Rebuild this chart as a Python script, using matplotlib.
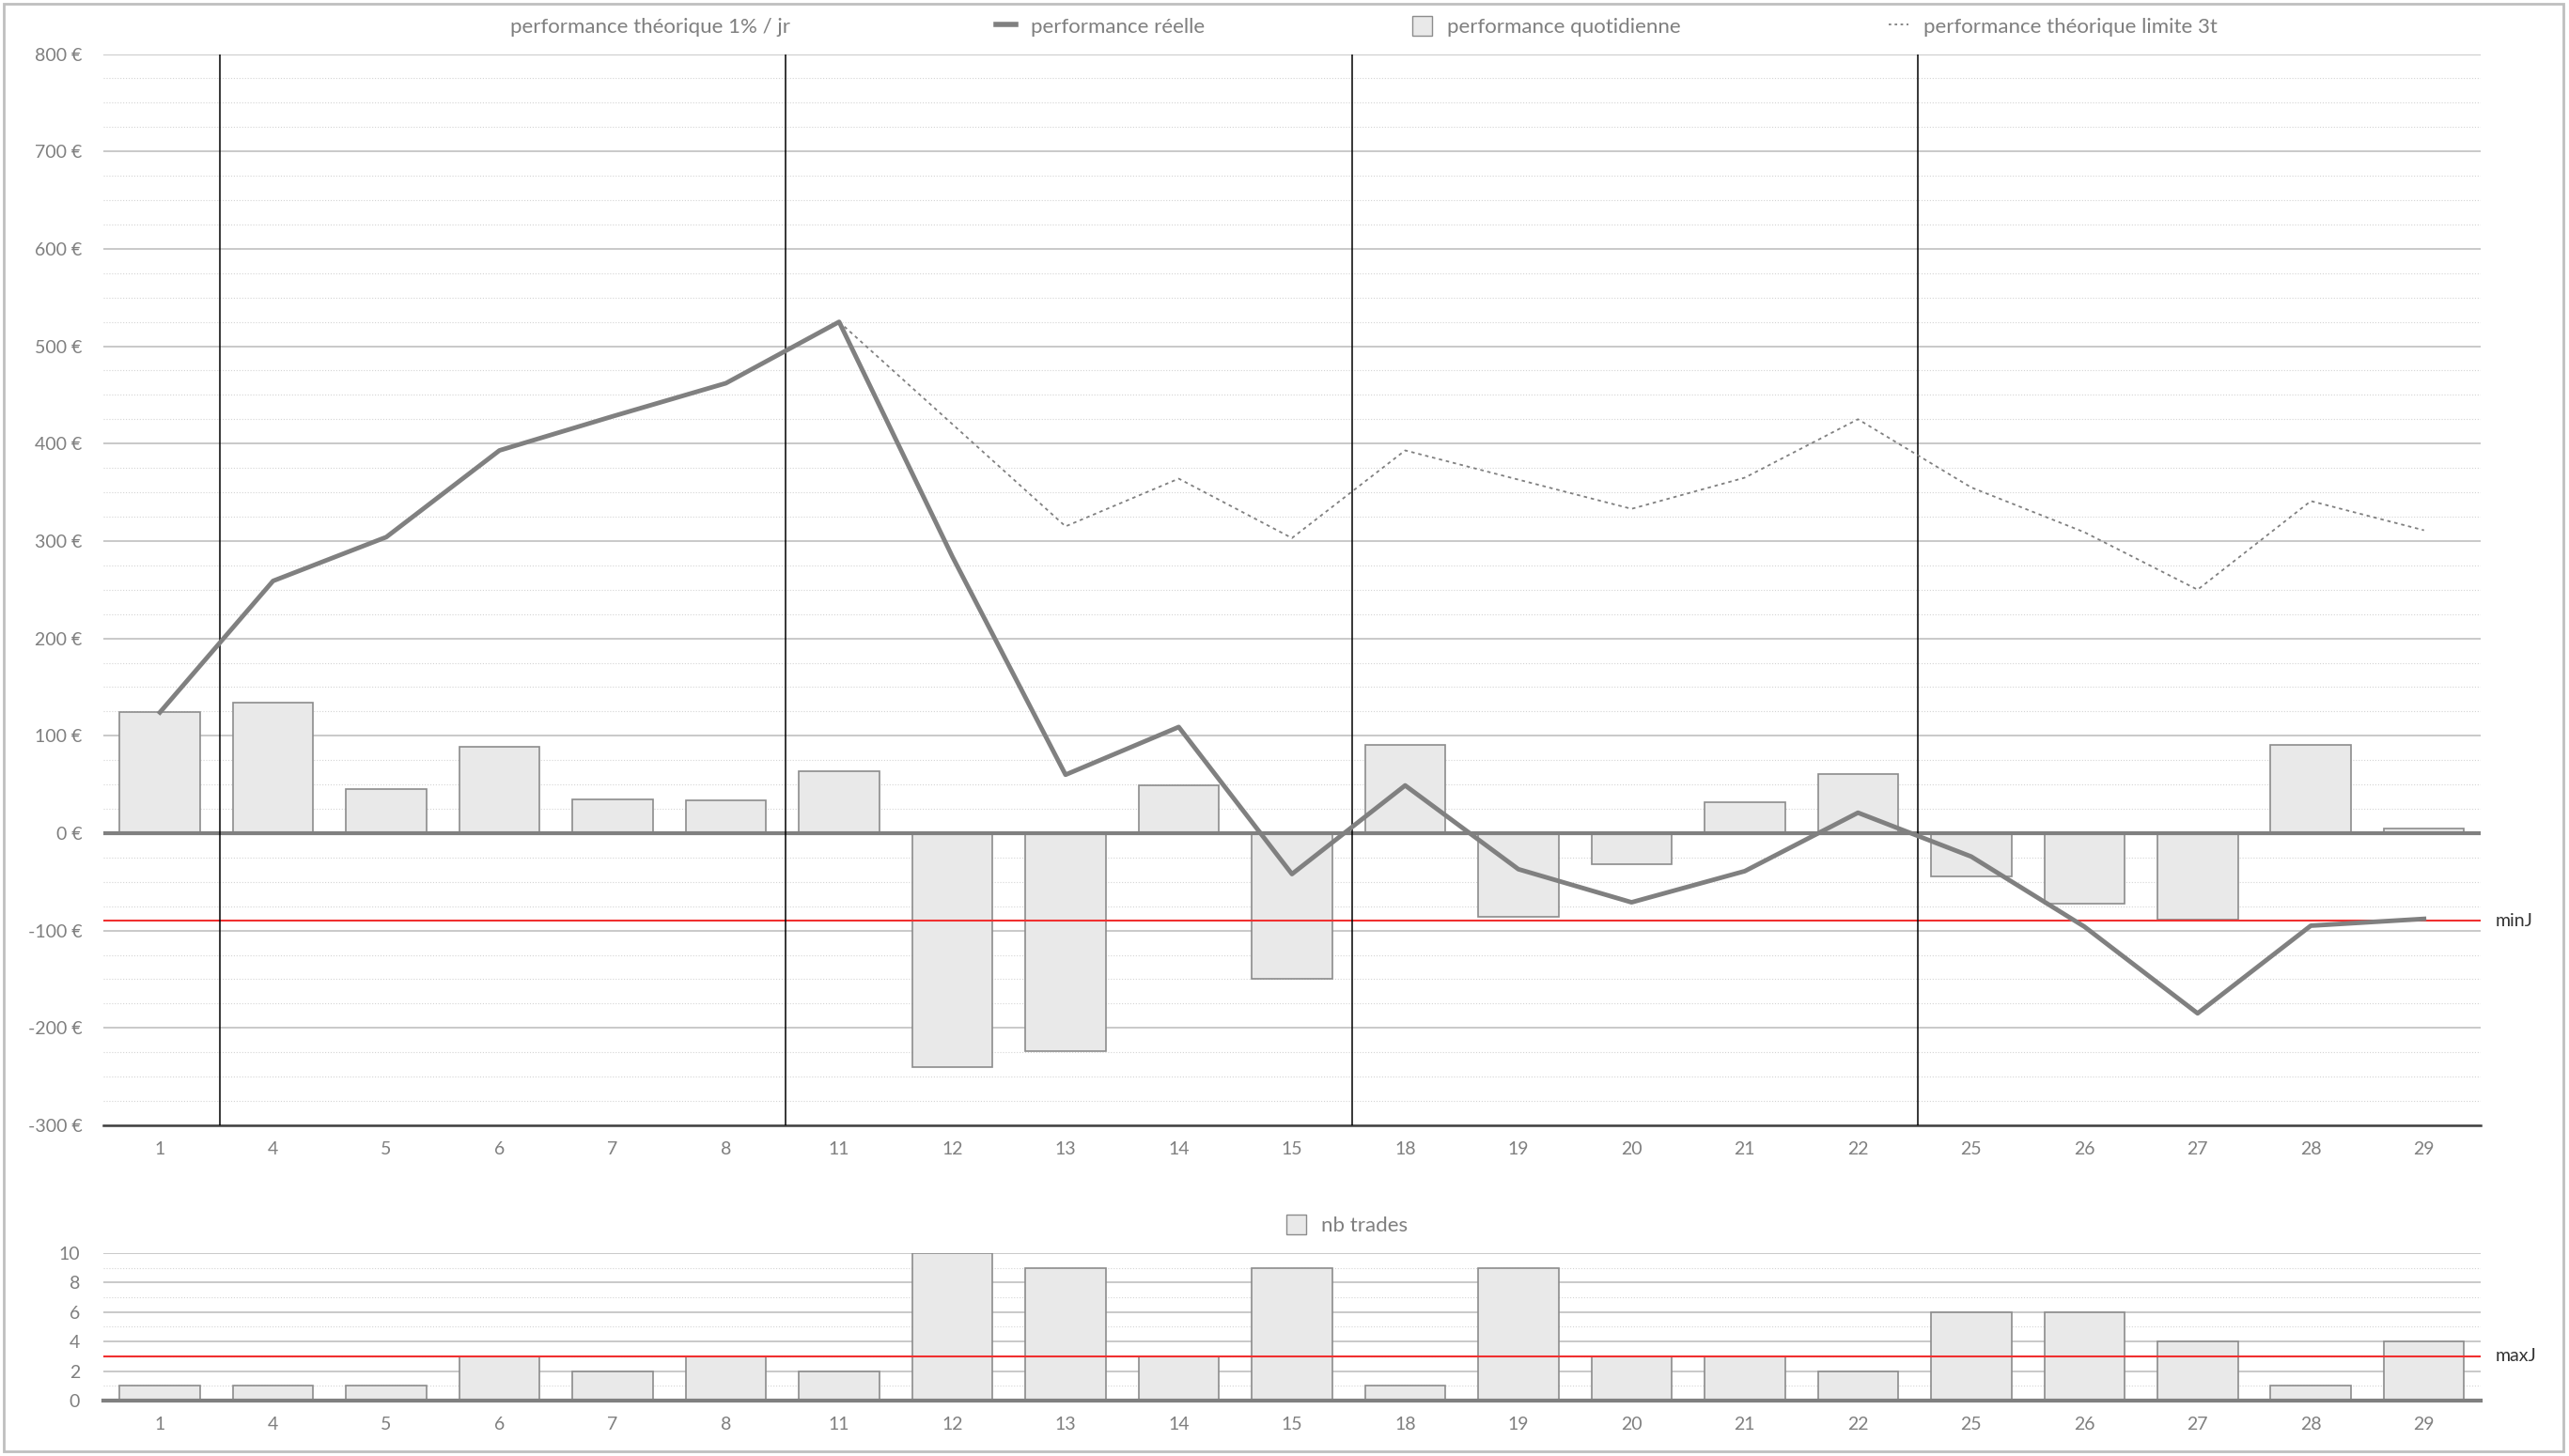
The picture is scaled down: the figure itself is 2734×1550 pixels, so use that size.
import numpy as np
import matplotlib
matplotlib.use("Agg")
import matplotlib.pyplot as plt
import matplotlib.patches as mpatches
import matplotlib.transforms as mtransforms
from matplotlib.lines import Line2D

# donnees
jours = ["1", "4", "5", "6", "7", "8", "11", "12", "13", "14", "15",
         "18", "19", "20", "21", "22", "25", "26", "27", "28", "29"]
perf_quotidienne = [124, 134, 45, 89, 35, 34, 64, -240, -224, 49, -150,
                    91, -86, -32, 32, 61, -44, -72, -89, 91, 5]
perf_reelle = [124, 259, 304, 393, 428, 462, 525, 284, 60, 109, -42,
               49, -37, -71, -39, 21, -24, -96, -185, -95, -88]
perf_limite_3t = [np.nan] * 6 + [525, 420, 315, 364, 303, 393, 363, 333,
                                 365, 425, 355, 309, 250, 341, 311]
nb_trades = [1, 1, 1, 3, 2, 3, 2, 10, 9, 3, 9, 1, 9, 3, 3, 2, 6, 6, 4, 1, 4]
min_j = -90
max_j = 3

GRIS = "#7f7f7f"
FOND_BARRE = "#e9e9e9"
BORD_BARRE = "#8c8c8c"
ROUGE = "#f03030"
FONT = ["Lato", "DejaVu Sans"]
plt.rcParams["font.family"] = FONT

fig = plt.figure(figsize=(27.34, 15.5), dpi=100)
ax = fig.add_axes([0.0402, 0.2271, 0.9254, 0.7358])
ax2 = fig.add_axes([0.0402, 0.0381, 0.9254, 0.1013])

x = np.arange(len(jours))

# separateurs de semaine (saut de jours)
nums = [int(j) for j in jours]
separateurs = [i - 0.47 for i in range(1, len(nums)) if nums[i] - nums[i - 1] > 1]

# ---- graphique du haut
ax.bar(x, perf_quotidienne, width=0.71, color=FOND_BARRE, edgecolor=BORD_BARRE,
       linewidth=1.2, zorder=2)
ax.axhline(0, color="#808080", lw=3, zorder=3)
ax.axhline(min_j, color=ROUGE, lw=1.5, zorder=3)
for s in separateurs:
    ax.axvline(s, color="black", lw=1.1, zorder=3)
ax.plot(x, perf_limite_3t, color="#808080", lw=1.3, linestyle=(0, (2, 2.2)), zorder=4)
ax.plot(x, perf_reelle, color="#808080", lw=3.5, zorder=5)

ax.set_xlim(-0.5, len(jours) - 0.5)
ax.set_ylim(-300, 800)
ax.set_yticks(range(-300, 801, 100))
ax.set_yticks(range(-300, 801, 25), minor=True)
ax.set_yticklabels([f"{v} €" for v in range(-300, 801, 100)])
ax.set_xticks(x)
ax.set_xticklabels(jours)
ax.grid(which="major", axis="y", color="#c0c0c0", lw=1.2, zorder=0)
ax.grid(which="minor", axis="y", color="#d4d4d4", lw=0.8, linestyle=":", zorder=0)
ax.set_axisbelow(True)
for sp in ["top", "left", "right"]:
    ax.spines[sp].set_visible(False)
ax.spines["bottom"].set_color("#404040")
ax.spines["bottom"].set_linewidth(1.8)
ax.tick_params(axis="both", which="both", length=0, colors=GRIS, labelsize=14)
ax.tick_params(axis="y", pad=16)
ax.tick_params(axis="x", pad=12)

tr = mtransforms.blended_transform_factory(ax.transAxes, ax.transData)
ax.text(1.0063, min_j, "minJ", transform=tr, va="center", ha="left",
        fontsize=14, color="#333333")

# ---- graphique du bas
ax2.bar(x, nb_trades, width=0.71, color=FOND_BARRE, edgecolor=BORD_BARRE,
        linewidth=1.2, zorder=2)
ax2.axhline(max_j, color=ROUGE, lw=1.5, zorder=3)
ax2.set_xlim(-0.5, len(jours) - 0.5)
ax2.set_ylim(0, 10)
ax2.set_yticks(range(0, 11, 2))
ax2.set_yticks(range(0, 11, 1), minor=True)
ax2.set_xticks(x)
ax2.set_xticklabels(jours)
ax2.grid(which="major", axis="y", color="#c0c0c0", lw=1.2, zorder=0)
ax2.grid(which="minor", axis="y", color="#d4d4d4", lw=0.8, linestyle=":", zorder=0)
ax2.set_axisbelow(True)
for sp in ["top", "left", "right"]:
    ax2.spines[sp].set_visible(False)
ax2.spines["bottom"].set_color("#808080")
ax2.spines["bottom"].set_linewidth(3)
ax2.spines["bottom"].set_zorder(4)
ax2.tick_params(axis="both", which="both", length=0, colors=GRIS, labelsize=14)
ax2.tick_params(axis="y", pad=18)
ax2.tick_params(axis="x", pad=12)
tr2 = mtransforms.blended_transform_factory(ax2.transAxes, ax2.transData)
ax2.text(1.0063, max_j, "maxJ", transform=tr2, va="center", ha="left",
         fontsize=14, color="#333333")

# ---- legendes
W, H = 2734.0, 1550.0
h_vide = Line2D([], [], color="none")
h_reelle = Line2D([], [], color="#808080", lw=4)
h_barre = mpatches.Patch(facecolor=FOND_BARRE, edgecolor=BORD_BARRE, lw=1)
h_limite = Line2D([], [], color="#808080", lw=1.3, linestyle=(0, (1.5, 2)))
entrees = [
    (h_vide, "performance théorique 1% / jr", 506),
    (h_reelle, "performance réelle", 1060),
    (h_barre, "performance quotidienne", 1503),
    (h_limite, "performance théorique limite 3t", 2010),
]
for h, lab, px in entrees:
    fig.legend([h], [lab], loc="center left", bbox_to_anchor=(px / W, 1 - 28 / H),
               frameon=False, fontsize=16, labelcolor=GRIS, handlelength=0.95,
               handleheight=1.05, handletextpad=0.7, borderpad=0, borderaxespad=0)
fig.legend([h_barre], ["nb trades"], loc="center left",
           bbox_to_anchor=(1369 / W, 1 - 1304 / H), frameon=False, fontsize=16,
           labelcolor=GRIS, handlelength=0.95, handleheight=1.05,
           handletextpad=0.7, borderpad=0, borderaxespad=0)

# cadre
fig.patches.append(mpatches.Rectangle((4 / W, 5 / H), 1 - 10 / W, 1 - 9 / H,
                                      transform=fig.transFigure, fill=False,
                                      edgecolor="#bfbfbf", lw=2))

fig.savefig("out.png", dpi=100)
